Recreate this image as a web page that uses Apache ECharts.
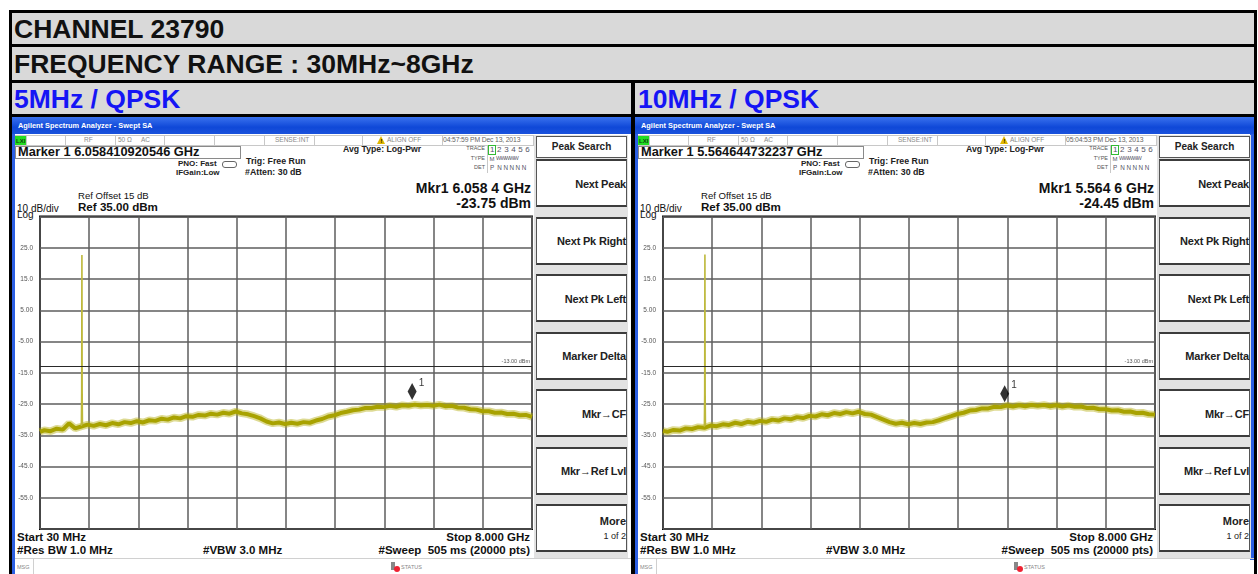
<!DOCTYPE html>
<html><head><meta charset="utf-8">
<script src="https://cdn.jsdelivr.net/npm/echarts@6/dist/echarts.min.js"></script>
<style>
html,body{margin:0;padding:0;background:#fff;width:1258px;height:574px;overflow:hidden;font-family:"Liberation Sans",Arial,sans-serif;}
#root{position:relative;width:1258px;height:574px;overflow:hidden;}
.a{position:absolute;white-space:pre;}
</style></head><body>
<div id="root"></div>
<script>
// ---------------- data ----------------
const channelTitle = 'CHANNEL 23790';
const rangeTitle = 'FREQUENCY RANGE : 30MHz~8GHz';
const panelTitles = ['5MHz / QPSK', '10MHz / QPSK'];
const startGHz = 0.03, stopGHz = 8.0;
const refLevelDbm = 35, dbPerDiv = 10;
const yTickValues = [-55, -45, -35, -25, -15, -5, 5, 15, 25];
const yTickLabels = ['-55.0', '-45.0', '-35.0', '-25.0', '-15.0', '-5.00', '5.00', '15.0', '25.0'];
const displayLineDbm = -13;
const displayLineLabel = '-13.00 dBm';
const freqGHz = [0.03, 0.1, 0.2, 0.3, 0.4, 0.5, 0.6, 0.7, 0.8, 0.9,
  1.0, 1.1, 1.2, 1.3, 1.4, 1.5, 1.6, 1.7, 1.8, 1.9,
  2.0, 2.1, 2.2, 2.3, 2.4, 2.5, 2.6, 2.7, 2.8, 2.9,
  3.0, 3.1, 3.2, 3.3, 3.4, 3.5, 3.6, 3.7, 3.8, 3.9,
  4.0, 4.1, 4.2, 4.3, 4.4, 4.5, 4.6, 4.7, 4.8, 4.9,
  5.0, 5.1, 5.2, 5.3, 5.4, 5.5, 5.6, 5.7, 5.8, 5.9,
  6.0, 6.1, 6.2, 6.3, 6.4, 6.5, 6.6, 6.7, 6.8, 6.9,
  7.0, 7.1, 7.2, 7.3, 7.4, 7.5, 7.6, 7.7, 7.8, 7.9, 8.0];
const levels5MHz = [-33.9, -33.4, -33.7, -32.9, -33.2, -31.2, -32.8, -32.2, -31.6, -32.0,
  -31.4, -31.8, -31.1, -31.5, -30.8, -31.1, -30.5, -30.9, -30.2, -30.4,
  -29.7, -30.0, -29.3, -29.6, -28.9, -29.1, -28.5, -28.7, -28.1, -28.4,
  -27.8, -28.1, -27.4, -28.0, -28.3, -28.9, -29.6, -30.6, -31.2, -30.9,
  -31.4, -31.0, -31.3, -30.8, -31.0, -30.3, -29.8, -29.0, -28.6, -27.9,
  -27.5, -27.0, -26.8, -26.3, -26.3, -25.9, -26.0, -25.6, -25.9, -25.4,
  -25.6, -25.2, -25.5, -25.3, -25.6, -25.2, -25.7, -25.6, -26.1, -26.2,
  -26.7, -26.8, -27.3, -27.3, -27.8, -27.7, -28.2, -28.1, -28.6, -28.5, -29.1];
const levels10MHz = [-33.6, -33.9, -33.3, -33.5, -32.8, -33.0, -32.4, -32.6, -31.9, -32.1,
  -31.5, -31.7, -31.0, -31.4, -30.7, -31.0, -30.4, -30.7, -30.0, -30.3,
  -29.6, -29.9, -29.2, -29.5, -28.8, -29.0, -28.3, -28.6, -27.9, -28.2,
  -27.6, -28.0, -27.5, -28.2, -28.4, -29.2, -30.0, -30.8, -31.3, -31.0,
  -31.5, -31.1, -31.4, -30.9, -30.8, -30.2, -29.5, -28.9, -28.2, -27.8,
  -27.1, -26.9, -26.4, -26.4, -25.9, -26.0, -25.5, -25.8, -25.4, -25.7,
  -25.3, -25.6, -25.3, -25.7, -25.4, -25.8, -25.5, -25.9, -25.8, -26.3,
  -26.2, -26.7, -26.7, -27.1, -27.0, -27.5, -27.4, -27.9, -27.8, -28.3, -28.4];
const spikeFreqGHz = [0.700, 0.705, 0.709, 0.713, 0.718];
const spikeLevels5MHz = [-32.0, -21.5, 22.7, -21.5, -31.6];
const spikeLevels10MHz = [-32.3, -22.0, 22.8, -22.0, -31.9];
const markerFreqGHz = [6.058410920546, 5.564644732237];
const markerLevelDbm = [-23.75, -24.45];
const markerFreqText = ['Marker 1 6.058410920546 GHz', 'Marker 1 5.564644732237 GHz'];
const mkrReadout = ['Mkr1 6.058 4 GHz', 'Mkr1 5.564 6 GHz'];
const mkrLevelText = ['-23.75 dBm', '-24.45 dBm'];
const timestamps = ['04:57:59 PM Dec 13, 2013', '05:04:53 PM Dec 13, 2013'];
const softKeys = ['Next Peak', 'Next Pk Right', 'Next Pk Left', 'Marker Delta', 'Mkr\u2192CF', 'Mkr\u2192Ref Lvl'];
const levelSets = [levels5MHz, levels10MHz];
const spikeSets = [spikeLevels5MHz, spikeLevels10MHz];

// ---------------- helpers ----------------
const root = document.getElementById('root');
function box(x, y, w, h, css) {
  const d = document.createElement('div');
  d.className = 'a';
  d.style.left = x + 'px'; d.style.top = y + 'px';
  d.style.width = w + 'px'; d.style.height = h + 'px';
  d.style.boxSizing = 'border-box';
  if (typeof css === 'string') d.style.background = css; else Object.assign(d.style, css || {});
  root.appendChild(d);
  return d;
}
function txt(x, y, s, fs, o) {
  o = o || {};
  const d = document.createElement('div');
  d.className = 'a';
  d.textContent = s;
  d.style.fontSize = fs + 'px';
  d.style.lineHeight = fs + 'px';
  d.style.top = (y - fs / 2) + 'px';
  d.style.left = x + 'px';
  d.style.fontWeight = o.b ? 'bold' : 'normal';
  d.style.color = o.c || '#000';
  if (o.ls) d.style.letterSpacing = o.ls + 'px';
  if (o.al === 'r') d.style.transform = 'translateX(-100%)';
  if (o.al === 'c') d.style.transform = 'translateX(-50%)';
  root.appendChild(d);
  return d;
}

// ---------------- table ----------------
box(9, 10, 1248, 564, '#000');
box(12, 13, 1242, 31, '#d9d9d9');
box(12, 47, 1242, 33, '#d9d9d9');
box(12, 83, 619, 31, '#d9d9d9');
box(635, 83, 619, 31, '#d9d9d9');
txt(14, 29, channelTitle, 26.5, {b: 1, c: '#111'});
txt(14, 64, rangeTitle, 26.5, {b: 1, c: '#111'});
txt(14, 99, panelTitles[0], 26.5, {b: 1, c: '#1515f5'});
txt(638, 99, panelTitles[1], 26.5, {b: 1, c: '#1515f5'});

// ---------------- screens ----------------
const charts = [];
function buildScreen(i) {
  const dx = i * 623;
  const X = v => v + dx;
  box(X(12), 117, 619, 457, '#fff');
  box(X(12), 117, 3, 457, '#2c5fe2');
  if (i === 1) box(X(627), 117, 4, 443, '#2c5fe2');
  box(X(12), 117, 619, 17, {background: 'linear-gradient(#3a72ee,#0f48d8 60%,#1a52dc)'});
  txt(X(18), 126, 'Agilent Spectrum Analyzer - Swept SA', 7.4, {b: 1, c: '#fff'});
  // status row
  box(X(15), 135, 518, 11, {borderTop: '1px solid #c8c8c8', borderBottom: '1px solid #c8c8c8'});
  [26, 65, 115, 164, 214, 264, 314, 362, 442, 533].forEach(v => box(X(v), 135, 1, 11, '#c8c8c8'));
  box(X(15), 136, 11, 9, '#22dd22');
  txt(X(16), 140.5, 'LXI', 6, {c: '#114411', b: 1});
  txt(X(84), 140.5, 'RF', 6.5, {c: '#8a8a8a'});
  txt(X(118), 140.5, '50 \u03a9', 6.5, {c: '#8a8a8a'});
  txt(X(141), 140.5, 'AC', 6.5, {c: '#8a8a8a'});
  txt(X(275), 140.5, 'SENSE:INT', 6.5, {c: '#8a8a8a'});
  box(X(377), 136, 0, 0, {borderLeft: '4.5px solid transparent', borderRight: '4.5px solid transparent', borderBottom: '8px solid #e0b800'});
  txt(X(381.5), 141.5, '!', 5.5, {b: 1, al: 'c'});
  txt(X(387), 140.5, 'ALIGN OFF', 6.5, {c: '#8a8a8a'});
  txt(X(443), 140.5, timestamps[i], 6.8, {c: '#666', ls: -0.15});
  // marker box
  box(X(15), 146, 226, 13, {border: '1px solid #8a8a8a'});
  txt(X(18), 152.5, markerFreqText[i], 12.8, {b: 1, c: '#111'});
  txt(X(343), 149, 'Avg Type: Log-Pwr', 8.7, {b: 1, c: '#222'});
  // trace block
  txt(X(485), 149, 'TRACE', 5.5, {c: '#555', al: 'r'});
  txt(X(485), 158.5, 'TYPE', 5.5, {c: '#555', al: 'r'});
  txt(X(485), 168, 'DET', 5.5, {c: '#555', al: 'r'});
  box(X(487), 145, 1, 28, '#c8c8c8');
  box(X(488), 145, 8, 10, {border: '1px solid #33bb33'});
  txt(X(490), 150, '1 2 3 4 5 6', 8, {c: '#556', ls: 0.2});
  txt(X(489.5), 158.5, 'M', 6, {c: '#556'});
  txt(X(496), 158.5, 'WWWWW', 5.6, {c: '#556', ls: -0.9});
  txt(X(490), 168, 'P  N N N N N', 6.3, {c: '#556', ls: -0.1});
  // pno / trig
  txt(X(178), 163.5, 'PNO: Fast', 8, {b: 1, c: '#222'});
  box(X(222), 161, 15, 7, {border: '1px solid #666', borderRadius: '3px'});
  txt(X(176), 173, 'IFGain:Low', 8, {b: 1, c: '#222'});
  txt(X(246), 161, 'Trig: Free Run', 8.8, {b: 1, c: '#222'});
  txt(X(245), 172, '#Atten: 30 dB', 8.8, {b: 1, c: '#222'});
  // marker readout
  txt(X(531), 188, mkrReadout[i], 14, {b: 1, c: '#111', al: 'r'});
  txt(X(531), 203, mkrLevelText[i], 14, {b: 1, c: '#111', al: 'r'});
  txt(X(78), 195.5, 'Ref Offset 15 dB', 9.6, {c: '#111'});
  txt(X(78), 207, 'Ref 35.00 dBm', 11.6, {b: 1, c: '#111'});
  txt(X(17), 208.5, '10 dB/div', 10, {c: '#111'});
  txt(X(17), 215, 'Log', 10, {c: '#111'});
  // bottom annotations
  txt(X(17), 538, 'Start 30 MHz', 11.5, {b: 1, c: '#111'});
  txt(X(530), 538, 'Stop 8.000 GHz', 11.5, {b: 1, c: '#111', al: 'r'});
  txt(X(17), 550.5, '#Res BW 1.0 MHz', 11.5, {b: 1, c: '#111'});
  txt(X(203), 550.5, '#VBW 3.0 MHz', 11.5, {b: 1, c: '#111'});
  txt(X(530), 550.5, '#Sweep  505 ms (20000 pts)', 11.5, {b: 1, c: '#111', al: 'r'});
  // msg bar
  box(X(15), 558, 616, 1, '#d0d0d0');
  box(X(33), 559, 1, 15, '#d0d0d0');
  txt(X(17), 568, 'MSG', 5.5, {c: '#888'});
  box(X(391), 562, 4, 8, '#888');
  box(X(394), 566, 6, 6, {background: '#e23', borderRadius: '50%'});
  txt(X(401), 568, 'STATUS', 5.5, {c: '#888'});
  // soft keys
  box(X(534), 135, 94, 423, '#e2e2e2');
  box(X(536), 136, 91, 22, {background: '#fff', border: '1px solid #555'});
  txt(X(581.5), 146.5, 'Peak Search', 10, {b: 1, c: '#222', al: 'c'});
  softKeys.forEach((k, j) => {
    const top = 159 + j * 57.5;
    box(X(536), top, 91, 48, {background: '#fff', borderTop: '2px solid #3c3c3c', borderBottom: '2px solid #3c3c3c', borderLeft: '1px solid #555', borderRight: '1px solid #555'});
    txt(X(626), top + 25, k, 11, {b: 1, c: '#222', al: 'r', ls: -0.2});
  });
  const mt = 159 + 6 * 57.5;
  box(X(536), mt, 91, 48, {background: '#fff', borderTop: '2px solid #3c3c3c', borderBottom: '2px solid #3c3c3c', borderLeft: '1px solid #555', borderRight: '1px solid #555'});
  txt(X(626), mt + 17, 'More', 11, {b: 1, c: '#222', al: 'r'});
  txt(X(626), mt + 32, '1 of 2', 9, {c: '#222', al: 'r'});

  // chart
  const el = document.createElement('div');
  el.className = 'a';
  el.style.left = X(12) + 'px'; el.style.top = '197px';
  el.style.width = '525px'; el.style.height = '345px';
  root.appendChild(el);
  const chart = echarts.init(el, null, {renderer: 'canvas'});
  const splitStyle = {color: '#5e5e5e', width: 1.5};
  const traceData = freqGHz.map((f, j) => [f, levelSets[i][j]]);
  chart.setOption({
    animation: false,
    backgroundColor: 'transparent',
    textStyle: {fontFamily: 'Liberation Sans'},
    grid: {left: 28, top: 19.5, width: 492, height: 312.5, show: true, borderColor: '#000', borderWidth: 2, backgroundColor: '#fff'},
    xAxis: {
      type: 'value', min: startGHz, max: stopGHz, interval: (stopGHz - startGHz) / 10,
      axisLabel: {show: false}, axisTick: {show: false}, axisLine: {show: false},
      splitLine: {show: true, lineStyle: splitStyle}
    },
    yAxis: {
      type: 'value', min: refLevelDbm - 10 * dbPerDiv, max: refLevelDbm, interval: dbPerDiv,
      axisTick: {show: false}, axisLine: {show: false},
      splitLine: {show: true, lineStyle: splitStyle},
      axisLabel: {
        fontSize: 6.5, color: '#555', margin: 7,
        formatter: v => { const k = yTickValues.indexOf(Math.round(v)); return k >= 0 ? yTickLabels[k] : ''; }
      }
    },
    series: [
      {
        type: 'line', data: traceData, showSymbol: false, silent: true,
        lineStyle: {color: '#b4ae10', width: 7.5, opacity: 0.45}, z: 2,
        markLine: {
          silent: true, symbol: 'none', animation: false,
          data: [{yAxis: displayLineDbm}],
          lineStyle: {color: '#2a2a2a', width: 1.2, type: 'solid'},
          label: {show: true, position: 'insideEndTop', formatter: displayLineLabel, fontSize: 5.5, color: '#555', distance: 2}
        }
      },
      {
        type: 'line', data: traceData, showSymbol: false, silent: true,
        lineStyle: {color: '#a8a200', width: 4}, z: 3
      },
      {
        type: 'line', data: spikeFreqGHz.map((f, j) => [f, spikeSets[i][j]]), showSymbol: false, silent: true,
        lineStyle: {color: '#bdb83a', width: 1.6}, z: 4
      },
      {
        type: 'scatter', data: [[markerFreqGHz[i], markerLevelDbm[i]]], symbol: 'diamond',
        symbolSize: [9, 17], symbolOffset: [0, '-50%'], itemStyle: {color: '#000'}, z: 5, silent: true,
        label: {show: true, formatter: '1', position: [11, -5], align: 'left', verticalAlign: 'top', fontSize: 10, color: '#000'}
      }
    ]
  });
  charts.push(chart);
}
buildScreen(0);
buildScreen(1);
</script>
</body></html>
